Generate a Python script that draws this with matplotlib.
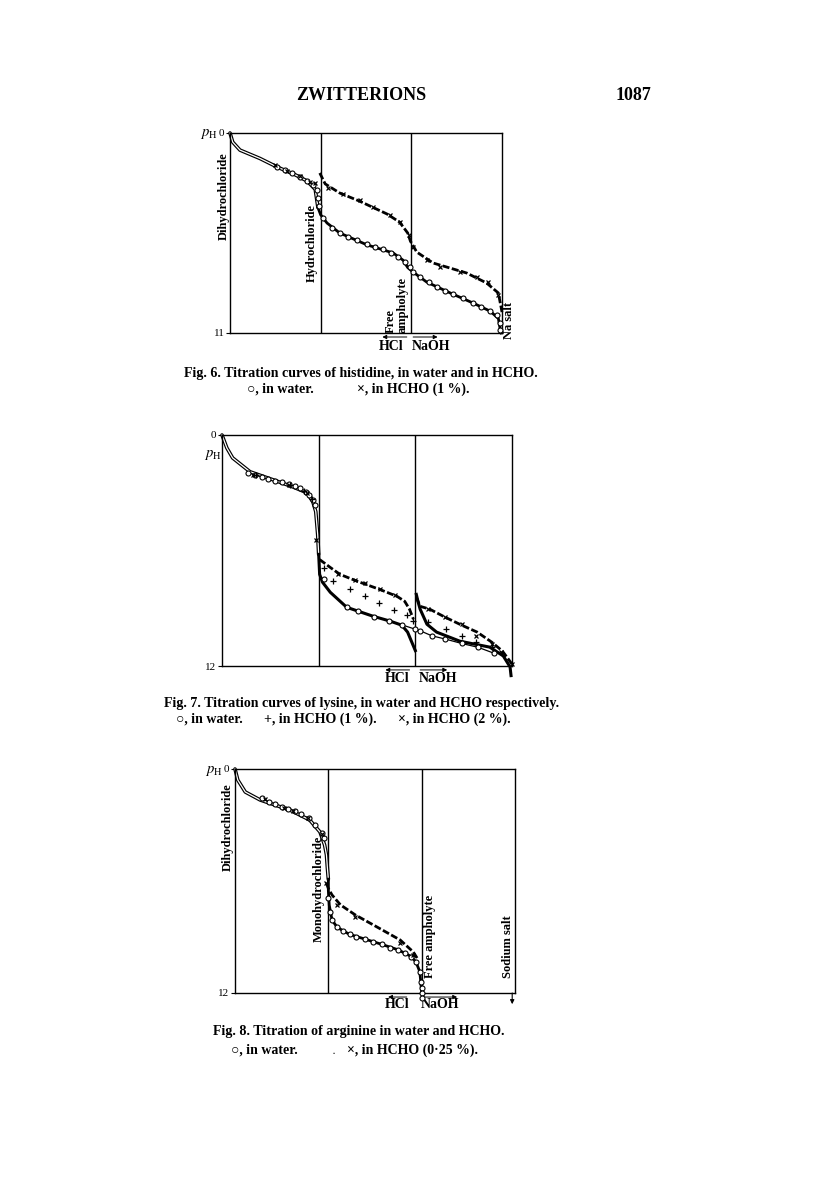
import matplotlib
matplotlib.use("Agg")
import matplotlib.pyplot as plt

plt.rcParams['font.family'] = ['Liberation Serif', 'DejaVu Serif', 'DejaVu Sans']
plt.rcParams['mathtext.fontset'] = 'stix'

# ---- Fig. 6 : histidine (equivalents, pH) ----
f6_water_dbl_x = [0, 0.03, 0.11, 0.33, 0.52, 0.72, 0.85, 0.94, 0.97]
f6_water_dbl_ph = [0, 0.5, 0.94, 1.4, 1.87, 2.3, 2.64, 3.1, 4.1]
f6_water_x = [0.97, 1.0, 1.07, 1.21, 1.51, 1.8, 1.91, 1.96, 2.02, 2.17, 2.43, 2.68, 2.87, 2.96, 2.98, 2.99]
f6_water_ph = [4.1, 4.5, 4.95, 5.5, 6.15, 6.6, 7.0, 7.4, 7.65, 8.2, 8.8, 9.35, 9.8, 10.2, 10.8, 11.0]
f6_circ_x = [0.52, 0.61, 0.68, 0.77, 0.85, 0.92, 0.96, 0.97, 0.98,
             1.03, 1.12, 1.21, 1.3, 1.4, 1.51, 1.6, 1.69, 1.78, 1.85, 1.93, 1.98, 2.02,
             2.1, 2.19, 2.28, 2.37, 2.46, 2.57, 2.68, 2.77, 2.87, 2.94, 2.98, 2.98]
f6_circ_ph = [1.87, 2.04, 2.2, 2.42, 2.64, 2.86, 3.14, 3.57, 4.0,
              4.69, 5.24, 5.52, 5.7, 5.88, 6.1, 6.25, 6.39, 6.58, 6.8, 7.07, 7.35, 7.63,
              7.9, 8.18, 8.45, 8.67, 8.86, 9.09, 9.33, 9.56, 9.77, 10.0, 10.47, 10.84]
f6_hcho_x = [0.99, 1.05, 1.21, 1.43, 1.73, 1.87, 1.96, 1.99, 2.06, 2.24, 2.61, 2.83, 2.96, 3.0]
f6_hcho_ph = [2.2, 2.8, 3.3, 3.75, 4.45, 4.9, 5.5, 5.95, 6.55, 7.15, 7.7, 8.25, 8.8, 9.85]
f6_cross_x = [0.5, 0.63, 0.77, 0.88, 0.94, 1.08, 1.25, 1.43, 1.58, 1.76, 1.87, 1.97, 2.02,
              2.17, 2.32, 2.54, 2.72, 2.85, 2.96]
f6_cross_ph = [1.76, 2.07, 2.37, 2.68, 2.77, 3.04, 3.36, 3.69, 4.09, 4.51, 4.88, 5.61, 6.25,
               6.99, 7.35, 7.63, 7.9, 8.18, 8.91]

# ---- Fig. 7 : lysine ----
f7_water_dbl_x = [0, 0.05, 0.11, 0.29, 0.53, 0.73, 0.88, 0.94, 0.97, 0.99, 1.0]
f7_water_dbl_ph = [0, 0.67, 1.19, 1.91, 2.33, 2.69, 3.0, 3.47, 3.98, 5.17, 6.2]
f7_water1_x = [1.0, 1.01, 1.04, 1.12, 1.29, 1.56, 1.74, 1.86, 1.92, 1.98, 2.0]
f7_water1_ph = [6.2, 7.24, 7.65, 8.17, 8.95, 9.41, 9.67, 9.88, 10.24, 10.96, 11.2]
f7_thin_x = [1.86, 2.0, 2.05, 2.17, 2.31, 2.48, 2.65, 2.81]
f7_thin_ph = [9.86, 10.09, 10.17, 10.43, 10.6, 10.83, 11.03, 11.33]
f7_water2_x = [2.01, 2.03, 2.05, 2.12, 2.22, 2.46, 2.77, 2.91, 2.98, 2.99]
f7_water2_ph = [8.28, 8.7, 9.05, 9.83, 10.24, 10.71, 11.02, 11.48, 12.05, 12.5]
f7_circ_x = [0.27, 0.34, 0.41, 0.48, 0.55, 0.62, 0.69, 0.76, 0.81, 0.87, 0.9, 0.94, 0.96,
             1.05, 1.29, 1.41, 1.57, 1.73, 1.86, 2.0, 2.05, 2.17, 2.31, 2.48, 2.65, 2.81]
f7_circ_ph = [1.98, 2.1, 2.19, 2.29, 2.38, 2.45, 2.55, 2.64, 2.76, 2.98, 3.14, 3.36, 3.62,
              7.5, 8.96, 9.14, 9.43, 9.66, 9.86, 10.09, 10.17, 10.43, 10.6, 10.83, 11.03, 11.33]
f7_hcho1_x = [1.01, 1.12, 1.22, 1.4, 1.63, 1.81, 1.89, 1.94, 1.98]
f7_hcho1_ph = [6.47, 6.88, 7.24, 7.6, 8.02, 8.38, 8.64, 9.05, 9.57]
f7_hcho2_x = [2.01, 2.05, 2.15, 2.31, 2.48, 2.64, 2.79, 2.9, 3.0]
f7_hcho2_ph = [8.43, 8.9, 9.05, 9.47, 9.88, 10.24, 10.76, 11.22, 11.9]
f7_cross_x = [0.32, 0.69, 0.88, 0.97, 1.2, 1.38, 1.48, 1.63, 1.79, 2.13, 2.31, 2.48, 2.63, 2.79, 2.89, 3.0]
f7_cross_ph = [2.07, 2.59, 3.02, 5.43, 7.24, 7.54, 7.71, 8.02, 8.31, 9.05, 9.48, 9.83, 10.46, 10.86, 11.29, 11.9]
f7_plus_x = [0.35, 0.7, 0.85, 0.93, 1.05, 1.15, 1.32, 1.48, 1.62, 1.78, 1.91, 1.98,
             2.13, 2.32, 2.48, 2.63, 2.79]
f7_plus_ph = [2.1, 2.62, 2.9, 3.3, 6.9, 7.59, 8.02, 8.36, 8.74, 9.1, 9.36, 9.66,
              9.74, 10.09, 10.43, 10.77, 11.03]

# ---- Fig. 8 : arginine ----
f8_water_dbl_x = [0, 0.03, 0.11, 0.27, 0.59, 0.8, 0.91, 0.96, 0.98, 0.99, 1.0]
f8_water_dbl_ph = [0, 0.59, 1.23, 1.66, 2.2, 2.73, 3.37, 4.07, 4.6, 5.3, 5.9]
f8_water_x = [1.0, 1.0, 1.01, 1.04, 1.09, 1.16, 1.23, 1.39, 1.57, 1.75, 1.89, 1.94, 1.98, 1.99, 2.0]
f8_water_ph = [5.9, 6.5, 7.3, 8.09, 8.45, 8.68, 8.86, 9.11, 9.39, 9.69, 10.05, 10.35, 10.86, 11.39, 12.0]
f8_circ_x = [0.29, 0.36, 0.43, 0.5, 0.57, 0.64, 0.71, 0.79, 0.86, 0.93, 0.95,
             1.0, 1.02, 1.04, 1.09, 1.16, 1.23, 1.3, 1.39, 1.48, 1.57, 1.66, 1.75, 1.82, 1.89,
             1.94, 1.98, 1.99, 2.0, 2.0, 2.0]
f8_circ_ph = [1.57, 1.75, 1.89, 2.02, 2.14, 2.25, 2.43, 2.64, 3.0, 3.44, 3.71,
              6.93, 7.64, 8.09, 8.45, 8.68, 8.86, 8.98, 9.11, 9.28, 9.39, 9.57, 9.69, 9.87, 10.05,
              10.35, 10.86, 11.39, 11.75, 12.02, 12.29]
f8_hcho_x = [0.98, 1.0, 1.04, 1.13, 1.29, 1.52, 1.77, 1.91, 1.96]
f8_hcho_ph = [6.12, 6.4, 6.75, 7.28, 7.82, 8.46, 9.16, 9.8, 10.2]
f8_cross_x = [0.32, 0.53, 0.62, 0.78, 0.93, 0.98, 1.09, 1.29, 1.77, 1.91]
f8_cross_ph = [1.62, 2.07, 2.25, 2.6, 3.5, 6.12, 7.28, 7.91, 9.34, 9.96]

W, H = 816, 1195
fig = plt.figure(figsize=(W / 100, H / 100), dpi=100)


def px(x, y):
    return x / W, 1 - y / H


def panel(l, t, r, b, ymax):
    ax = fig.add_axes([l / W, 1 - b / H, (r - l) / W, (b - t) / H])
    ax.set_xlim(0, 3)
    ax.set_ylim(ymax, 0)
    ax.set_xticks([])
    ax.set_yticks([0, ymax])
    ax.set_yticklabels(['0', str(ymax)])
    ax.tick_params(axis='y', length=3, width=0.8, pad=1, labelsize=8)
    for s in ax.spines.values():
        s.set_linewidth(1.0)
    ax.axvline(1, color='k', lw=1.0)
    ax.axvline(2, color='k', lw=1.0)
    return ax


def double(ax, x, y):
    ax.plot(x, y, color='k', lw=2.6, solid_capstyle='round', clip_on=False)
    ax.plot(x, y, color='white', lw=0.9, clip_on=False)


def thick(ax, x, y, lw=2.0):
    ax.plot(x, y, color='k', lw=lw, clip_on=False)


def dashed(ax, x, y):
    ax.plot(x, y, color='k', lw=2.0, dashes=(2.5, 0.9), clip_on=False)


def circles(ax, x, y):
    ax.plot(x, y, 'o', ms=3.6, mfc='white', mec='k', mew=0.8, clip_on=False, zorder=5)


def crosses(ax, x, y):
    ax.plot(x, y, 'x', ms=3.2, mec='k', mew=0.9, clip_on=False, zorder=5)


def pluses(ax, x, y):
    ax.plot(x, y, '+', ms=5, mec='k', mew=0.9, clip_on=False, zorder=5)


def acid_base(ax, hx, nx, ha0, ha1, na0, na1, ty, ay):
    tr = ax.get_xaxis_transform()
    for tail, head in [(ha1, ha0), (na0, na1)]:
        ax.annotate('', xy=(head, ay), xytext=(tail, ay), xycoords=tr, annotation_clip=False,
                    arrowprops=dict(arrowstyle='-|>', lw=0.7, color='k', mutation_scale=6,
                                    shrinkA=0, shrinkB=0))
    ax.text(hx, ty, 'HCl', transform=tr, ha='center', va='center', fontsize=10, weight='bold')
    ax.text(nx, ty, 'NaOH', transform=tr, ha='center', va='center', fontsize=10, weight='bold')


def label(x, y, s, size=9, **kw):
    fig.text(*px(x, y), s, rotation=90, ha='center', va='center', fontsize=size,
             weight='bold', **kw)


def caption(x, y, s, size=10.1, ha='center'):
    fig.text(*px(x, y), s, ha=ha, va='center', fontsize=size, weight='bold')


ph_label = r'$\mathit{p}_{\mathrm{H}}$'

# header
fig.text(*px(361, 95), 'ZWITTERIONS', ha='center', va='center', fontsize=13, weight='bold')
fig.text(*px(633, 95), '1087', ha='center', va='center', fontsize=13, weight='bold')

# Fig. 6
ax6 = panel(230, 133, 502, 333, 11)
double(ax6, f6_water_dbl_x, f6_water_dbl_ph)
thick(ax6, f6_water_x, f6_water_ph)
dashed(ax6, f6_hcho_x, f6_hcho_ph)
circles(ax6, f6_circ_x, f6_circ_ph)
crosses(ax6, f6_cross_x, f6_cross_ph)
acid_base(ax6, 1.78, 2.22, 1.68, 1.95, 2.02, 2.29, -0.068, -0.02)
fig.text(*px(209, 134), ph_label, ha='center', va='center', fontsize=10.5)
label(224, 196, 'Dihydrochloride')
label(312, 243, 'Hydrochloride')
fig.text(*px(397, 333), 'Free\nampholyte', rotation=90, ha='center', va='bottom',
         multialignment='left', fontsize=9, weight='bold', linespacing=0.95)
label(509, 320, 'Na salt')
caption(361, 373, 'Fig. 6. Titration curves of histidine, in water and in HCHO.')
caption(247, 389, '○, in water.', size=10, ha='left')
caption(357, 389, '×, in HCHO (1 %).', size=10, ha='left')

# Fig. 7
ax7 = panel(222, 435, 512, 666, 12)
double(ax7, f7_water_dbl_x, f7_water_dbl_ph)
thick(ax7, f7_water1_x, f7_water1_ph, lw=2.2)
ax7.plot(f7_thin_x, f7_thin_ph, color='k', lw=0.9, clip_on=False)
thick(ax7, f7_water2_x, f7_water2_ph, lw=2.2)
dashed(ax7, f7_hcho1_x, f7_hcho1_ph)
dashed(ax7, f7_hcho2_x, f7_hcho2_ph)
circles(ax7, f7_circ_x, f7_circ_ph)
crosses(ax7, f7_cross_x, f7_cross_ph)
pluses(ax7, f7_plus_x, f7_plus_ph)
acid_base(ax7, 1.81, 2.24, 1.69, 1.94, 2.05, 2.33, -0.055, -0.017)
fig.text(*px(213, 455), ph_label, ha='center', va='center', fontsize=10.5)
caption(362, 703, 'Fig. 7. Titration curves of lysine, in water and HCHO respectively.')
caption(176, 719, '○, in water.', size=10, ha='left')
caption(264, 719, '+, in HCHO (1 %).', size=10, ha='left')
caption(398, 719, '×, in HCHO (2 %).', size=10, ha='left')

# Fig. 8
ax8 = panel(235, 769, 515, 993, 12)
double(ax8, f8_water_dbl_x, f8_water_dbl_ph)
thick(ax8, f8_water_x, f8_water_ph)
dashed(ax8, f8_hcho_x, f8_hcho_ph)
circles(ax8, f8_circ_x, f8_circ_ph)
crosses(ax8, f8_cross_x, f8_cross_ph)
acid_base(ax8, 1.74, 2.2, 1.64, 1.84, 2.0, 2.38, -0.05, -0.018)
ax8.annotate('', xy=(2.97, -0.05), xytext=(2.97, 0), xycoords=ax8.get_xaxis_transform(),
             annotation_clip=False,
             arrowprops=dict(arrowstyle='-|>', lw=0.8, color='k', mutation_scale=6,
                             shrinkA=0, shrinkB=0))
fig.text(*px(214, 771), ph_label, ha='center', va='center', fontsize=10.5)
label(228, 827, 'Dihydrochloride')
label(319, 889, 'Monohydrochloride')
label(430, 936, 'Free ampholyte')
label(508, 947, 'Sodium salt')
caption(359, 1032, 'Fig. 8. Titration of arginine in water and HCHO.')
caption(231, 1050, '○, in water.', size=10, ha='left')
caption(333, 1052, '.', size=6, ha='left')
caption(347, 1050, '×, in HCHO (0·25 %).', size=10, ha='left')

fig.savefig('out.png', dpi=100, facecolor='white')
